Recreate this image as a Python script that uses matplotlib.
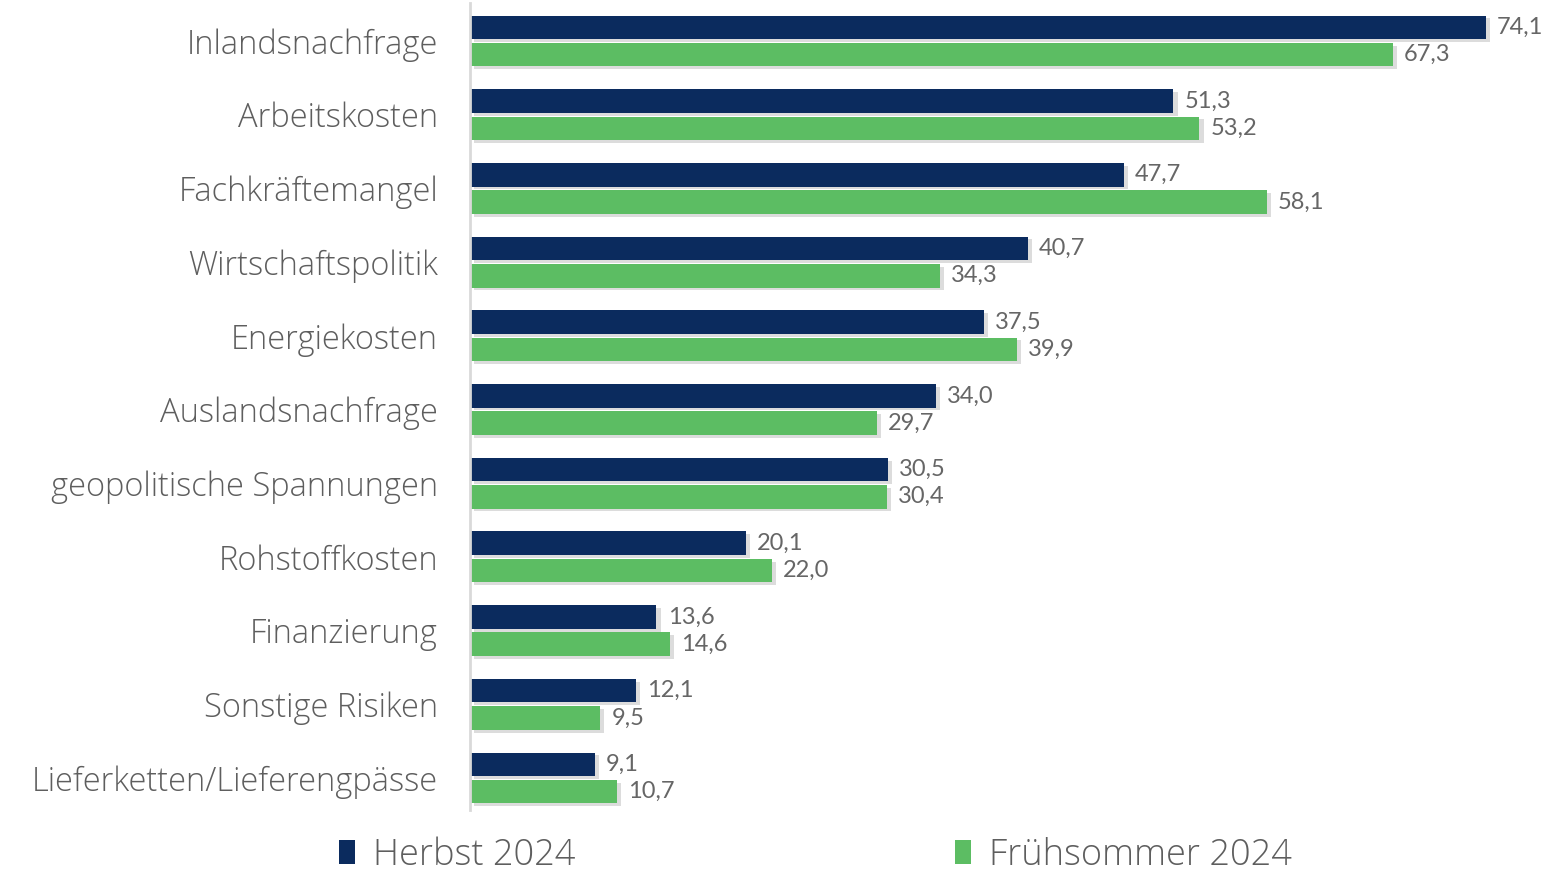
import matplotlib
matplotlib.use("Agg")
import matplotlib.pyplot as plt
import matplotlib.patheffects as pe
from matplotlib.patches import Patch
import numpy as np

categories = ["Inlandsnachfrage", "Arbeitskosten", "Fachkräftemangel", "Wirtschaftspolitik",
              "Energiekosten", "Auslandsnachfrage", "geopolitische Spannungen", "Rohstoffkosten",
              "Finanzierung", "Sonstige Risiken", "Lieferketten/Lieferengpässe"]
herbst_2024 = [74.1, 51.3, 47.7, 40.7, 37.5, 34.0, 30.5, 20.1, 13.6, 12.1, 9.1]
fruehsommer_2024 = [67.3, 53.2, 58.1, 34.3, 39.9, 29.7, 30.4, 22.0, 14.6, 9.5, 10.7]
series_names = ["Herbst 2024", "Frühsommer 2024"]

NAVY = "#0b2b5e"
GREEN = "#5cbd63"
TXT = "#5e5e5e"
plt.rcParams["font.family"] = ["Lato", "DejaVu Sans"]
CATFONT = ["Open Sans", "DejaVu Sans"]

W, H = 1547, 877
fig = plt.figure(figsize=(W / 100, H / 100), dpi=100)
left = 470 / W
right = 1539.5 / W
bottom = (H - 810) / H
top = (H - 3) / H
ax = fig.add_axes([left, bottom, right - left, top - bottom])

y = np.arange(len(categories))
bh = 0.32
off = 0.185
shadow = [pe.SimplePatchShadow(offset=(3, -2), shadow_rgbFace="#a8a8a8", alpha=0.4), pe.Normal()]
b1 = ax.barh(y - off, herbst_2024, height=bh, color=NAVY, path_effects=shadow)
b2 = ax.barh(y + off, fruehsommer_2024, height=bh, color=GREEN, path_effects=shadow)

def fmt(v):
    return f"{v:.1f}".replace(".", ",")

for bars, vals in ((b1, herbst_2024), (b2, fruehsommer_2024)):
    for rect, v in zip(bars, vals):
        ax.annotate(fmt(v), (rect.get_width(), rect.get_y() + rect.get_height() / 2),
                    xytext=(8, 0), textcoords="offset points", ha="left", va="center",
                    fontsize=17, color="#666666")

ax.set_xlim(0, 78)
ax.set_ylim(10 + 32 / 73.7, -38 / 73.7)
ax.set_yticks(y)
ax.set_yticklabels(categories, fontsize=23.5, color=TXT, family=CATFONT, fontweight="light")
ax.tick_params(axis="y", length=0, pad=23)
ax.set_xticks([])
for s in ["top", "right", "bottom"]:
    ax.spines[s].set_visible(False)
ax.spines["left"].set_color("#d9d9d9")
ax.spines["left"].set_linewidth(2)

handles = [Patch(facecolor=NAVY, edgecolor="none"), Patch(facecolor=GREEN, edgecolor="none")]
fig.legend(handles, series_names, loc="center", bbox_to_anchor=(0.527, 0.025), ncol=2,
           frameon=False, prop={"family": CATFONT, "size": 26, "weight": "light"}, labelcolor=TXT,
           columnspacing=10.5, handlelength=0.45, handleheight=0.65, handletextpad=0.5)

fig.savefig("out.png", dpi=100, facecolor="white")
